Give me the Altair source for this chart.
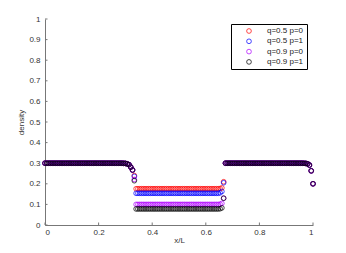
import altair as alt
import pandas as pd

N = 150  # lattice sites, x = i/N
series = ["q=0.5 p=0", "q=0.5 p=1", "q=0.9 p=0", "q=0.9 p=1"]
colors = ["#ff0000", "#0000ff", "#b000ff", "#000000"]

# left segment (i = 0..50)
left_plateau = 0.3
left_tail = [0.2995, 0.299, 0.297, 0.293, 0.281, 0.267]   # i = 44..49
left_end = [0.240, 0.236, 0.221, 0.215]                     # i = 50, per series

# middle segment (i = 51..100)
mid_plateau = [0.176, 0.154, 0.100, 0.078]
mid_tail = [  # i = 98, 99, 100 per series
    [0.177, 0.180, 0.210],
    [0.156, 0.163, 0.205],
    [0.101, 0.105, 0.130],
    [0.079, 0.083, 0.130],
]

# right segment (i = 101..150)
right_plateau = 0.3
right_tail = [0.2995, 0.299, 0.297, 0.291, 0.263, 0.200]  # i = 145..150

rows = []
for s, name in enumerate(series):
    vals = [left_plateau] * 44 + left_tail + [left_end[s]]
    vals += [mid_plateau[s]] * 47 + mid_tail[s]
    vals += [right_plateau] * 44 + right_tail
    for i, v in enumerate(vals):
        rows.append({"x": i / N, "density": v, "series": name})
df = pd.DataFrame(rows)

xticks = [0, 0.2, 0.4, 0.6, 0.8, 1.0]
yticks = [0, 0.1, 0.2, 0.3, 0.4, 0.5, 0.6, 0.7, 0.8, 0.9, 1.0]

W, H = 268, 206
FONT = "Liberation Sans"
xs = alt.Scale(domain=[0, 1], nice=False, zero=False)
ys = alt.Scale(domain=[0, 1], nice=False, zero=False)

xaxis = alt.Axis(
    title="x/L", values=xticks, format="~g", grid=False, ticks=False,
    labelPadding=3, titlePadding=0, domainColor="#777", labelColor="#333",
    titleColor="#333", labelFontSize=8, titleFontSize=8, titleFontWeight="normal",
    labelFont=FONT, titleFont=FONT)
yaxis = alt.Axis(
    title="density", values=yticks, format="~g", grid=False, ticks=False,
    labelPadding=5, titlePadding=3, domainColor="#777", labelColor="#333",
    titleColor="#333", labelFontSize=8, titleFontSize=8, titleFontWeight="normal",
    labelFont=FONT, titleFont=FONT)

points = alt.Chart(df).mark_point(
    shape="circle", filled=False, size=22, strokeWidth=0.8, opacity=0.9
).encode(
    x=alt.X("x:Q", scale=xs, axis=xaxis),
    y=alt.Y("density:Q", scale=ys, axis=yaxis),
    color=alt.Color("series:N", scale=alt.Scale(domain=series, range=colors),
                    legend=alt.Legend(
                        title=None, orient="none", legendX=186, legendY=5,
                        fillColor="white", strokeColor="#000", padding=3,
                        symbolOffset=11, labelOffset=14, rowPadding=2.3,
                        symbolSize=22, symbolStrokeWidth=0.8, symbolType="circle",
                        labelFontSize=8, labelFont=FONT, labelColor="#222")),
    order=alt.Order("series:N"),
)

xt = alt.Chart(pd.DataFrame({"x": xticks})).mark_rule(color="#777", strokeWidth=1).encode(
    x=alt.X("x:Q", scale=xs, axis=xaxis), y=alt.value(H), y2=alt.value(H - 2.5))
yt = alt.Chart(pd.DataFrame({"density": yticks})).mark_rule(color="#777", strokeWidth=1).encode(
    y=alt.Y("density:Q", scale=ys, axis=yaxis), x=alt.value(0), x2=alt.value(2.5))

chart = alt.layer(points, xt, yt).properties(
    width=W, height=H, background="white",
    autosize=alt.AutoSizeParams(type="none"),
    padding={"left": 37, "top": 11, "right": 25, "bottom": 19},
).configure_view(stroke=None)

chart.save("out.html", embed_options={"renderer": "svg", "actions": False})
